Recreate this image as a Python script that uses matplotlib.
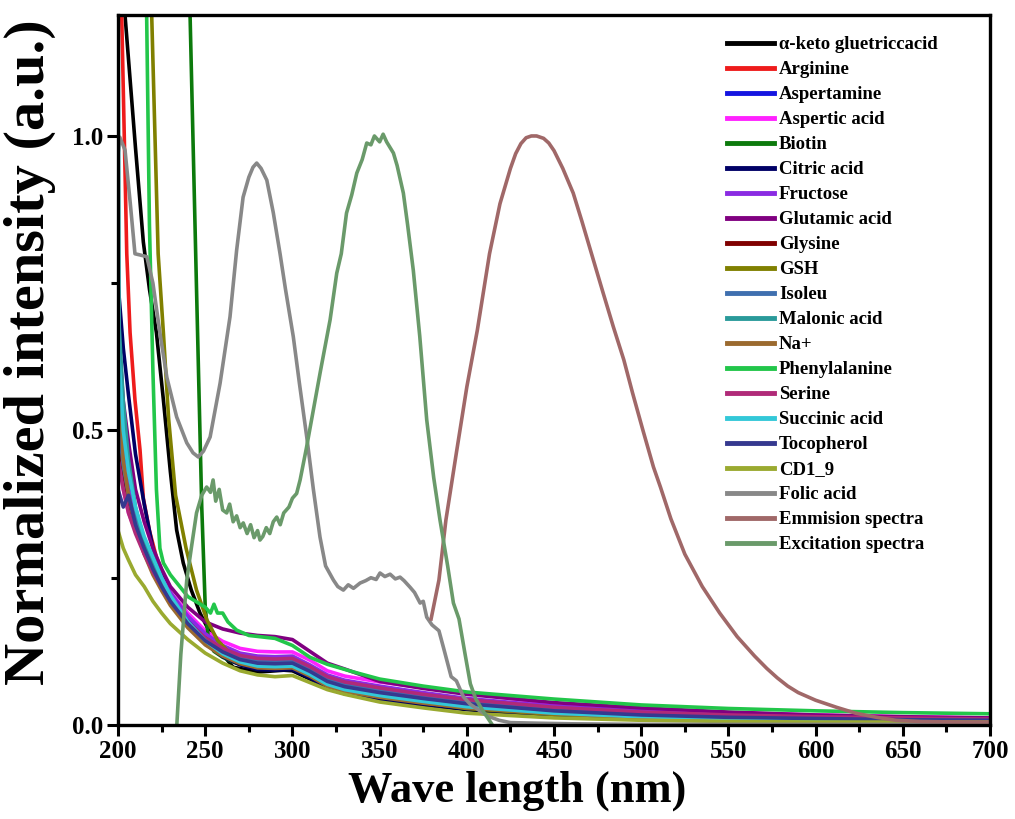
import matplotlib
matplotlib.use("Agg")
import matplotlib.pyplot as plt
from matplotlib.ticker import MultipleLocator, FormatStrFormatter

plt.rcParams['font.family'] = ['Liberation Serif', 'DejaVu Serif']
plt.rcParams['font.weight'] = 'bold'

# ---------------- data ----------------
W_B = [200, 203, 206, 210, 215, 220, 225, 230, 240, 250, 260, 270, 280, 290, 300,
       310, 320, 330, 350, 375, 400, 450, 500, 550, 600, 650, 700]

keto_x = [200, 204, 210, 214.5, 218, 222, 226, 230, 233.6, 237.4, 242, 247, 253, 260, 266,
          281, 295, 300, 310, 320, 330, 350, 375, 400, 450, 500, 550, 600, 650, 700]
keto_y = [1.35, 1.205, 0.98, 0.82, 0.74, 0.666, 0.552, 0.43, 0.331, 0.275, 0.229, 0.19, 0.155,
          0.12, 0.098, 0.09, 0.093, 0.092, 0.078, 0.062, 0.053, 0.043, 0.034, 0.026, 0.016,
          0.011, 0.008, 0.006, 0.005, 0.005]

arg_x = [200, 202.1, 205, 206.9, 209.7, 212.6, 214.5, 218, 222, 226, 230, 240, 250, 260, 270,
         280, 290, 300, 310, 320, 330, 350, 375, 400, 450, 500, 550, 600, 650, 700]
arg_y = [1.45, 1.205, 0.80, 0.666, 0.552, 0.467, 0.385, 0.33, 0.285, 0.255, 0.225, 0.18, 0.148,
         0.127, 0.113, 0.106, 0.105, 0.106, 0.092, 0.075, 0.066, 0.055, 0.045, 0.036, 0.024,
         0.017, 0.013, 0.011, 0.009, 0.008]

aspertamine_y = [0.60, 0.47, 0.41, 0.355, 0.31, 0.275, 0.245, 0.22, 0.18, 0.15, 0.13, 0.116, 0.110,
                 0.109, 0.110, 0.096, 0.079, 0.070, 0.060, 0.050, 0.040, 0.028, 0.020, 0.016,
                 0.013, 0.011, 0.009]
aspertic_y = [0.47, 0.40, 0.36, 0.33, 0.30, 0.275, 0.25, 0.225, 0.19, 0.16, 0.142, 0.13, 0.125,
              0.124, 0.124, 0.11, 0.092, 0.083, 0.073, 0.063, 0.054, 0.036, 0.027, 0.021, 0.017,
              0.014, 0.012]

biotin_x = [236, 241.3, 245, 248, 250, 252, 255, 260, 265, 270, 280, 290, 300, 310, 320, 330,
            350, 375, 400, 450, 500, 550, 600, 650, 700]
biotin_y = [1.87, 1.205, 0.74, 0.37, 0.20, 0.14, 0.125, 0.115, 0.108, 0.103, 0.100, 0.099, 0.100,
            0.087, 0.070, 0.061, 0.051, 0.041, 0.032, 0.021, 0.015, 0.012, 0.010, 0.008, 0.007]

citric_y = [0.75, 0.64, 0.56, 0.46, 0.375, 0.30, 0.255, 0.22, 0.17, 0.138, 0.116, 0.102, 0.094,
            0.093, 0.094, 0.080, 0.063, 0.054, 0.044, 0.035, 0.027, 0.017, 0.012, 0.009, 0.007,
            0.006, 0.005]
fructose_y = [0.55, 0.45, 0.40, 0.35, 0.31, 0.28, 0.25, 0.225, 0.185, 0.155, 0.135, 0.122, 0.117,
              0.116, 0.117, 0.102, 0.085, 0.076, 0.066, 0.055, 0.045, 0.032, 0.024, 0.019, 0.015,
              0.012, 0.011]
glutamic_y = [0.68, 0.55, 0.48, 0.40, 0.345, 0.30, 0.265, 0.235, 0.20, 0.175, 0.163, 0.156, 0.152,
              0.150, 0.145, 0.125, 0.105, 0.095, 0.074, 0.062, 0.052, 0.038, 0.029, 0.022, 0.017,
              0.014, 0.012]
glysine_y = [0.50, 0.43, 0.38, 0.335, 0.295, 0.262, 0.232, 0.207, 0.168, 0.139, 0.12, 0.107, 0.100,
             0.099, 0.100, 0.086, 0.069, 0.060, 0.050, 0.040, 0.032, 0.021, 0.015, 0.012, 0.010,
             0.008, 0.007]

gsh_x = [200, 219.3, 223, 226, 229, 233, 239, 245, 251, 257, 264, 275, 290, 300, 310, 320, 330,
         350, 375, 400, 450, 500, 550, 600, 650, 700]
gsh_y = [3.0, 1.205, 0.80, 0.666, 0.52, 0.39, 0.30, 0.229, 0.178, 0.144, 0.122, 0.11, 0.105, 0.105,
         0.09, 0.075, 0.065, 0.05, 0.038, 0.028, 0.018, 0.013, 0.010, 0.008, 0.007, 0.006]

isoleu_y = [0.52, 0.44, 0.39, 0.345, 0.305, 0.27, 0.24, 0.215, 0.176, 0.146, 0.127, 0.114, 0.108,
            0.107, 0.108, 0.094, 0.077, 0.068, 0.058, 0.048, 0.039, 0.027, 0.019, 0.015, 0.012,
            0.010, 0.009]

malonic_x = [200, 200.4, 203, 206, 210, 215, 220, 225, 230, 240, 250, 260, 270, 280, 290, 300,
             310, 320, 330, 350, 375, 400, 450, 500, 550, 600, 650, 700]
malonic_y = [0.72, 0.69, 0.55, 0.45, 0.37, 0.31, 0.275, 0.245, 0.215, 0.172, 0.142, 0.122, 0.109,
             0.102, 0.101, 0.102, 0.088, 0.071, 0.062, 0.052, 0.042, 0.033, 0.022, 0.015, 0.012,
             0.010, 0.008, 0.007]

na_x = [200, 200.6, 203, 206, 210, 215, 220, 225, 230, 240, 250, 260, 270, 280, 290, 300, 310,
        320, 330, 350, 375, 400, 450, 500, 550, 600, 650, 700]
na_y = [1.02, 0.60, 0.45, 0.39, 0.335, 0.29, 0.255, 0.228, 0.203, 0.165, 0.136, 0.117, 0.104,
        0.097, 0.096, 0.097, 0.083, 0.066, 0.057, 0.047, 0.037, 0.029, 0.019, 0.013, 0.010,
        0.008, 0.007, 0.006]

phenyl_x = [200, 215, 216.4, 218, 220, 222, 224, 226, 230, 240, 250, 253, 255, 257, 260, 263,
            268, 275, 290, 300, 310, 320, 335, 350, 375, 400, 450, 500, 550, 600, 650, 700]
phenyl_y = [3.5, 1.45, 1.205, 0.85, 0.60, 0.40, 0.30, 0.275, 0.255, 0.218, 0.20, 0.19, 0.205,
            0.19, 0.19, 0.175, 0.161, 0.152, 0.147, 0.135, 0.115, 0.103, 0.09, 0.078, 0.066,
            0.056, 0.044, 0.034, 0.028, 0.024, 0.021, 0.019]

serine_y = [0.45, 0.40, 0.36, 0.325, 0.29, 0.26, 0.235, 0.21, 0.175, 0.148, 0.13, 0.118, 0.113,
            0.112, 0.113, 0.099, 0.082, 0.073, 0.063, 0.052, 0.043, 0.030, 0.022, 0.017, 0.014,
            0.012, 0.010]

succinic_x = [200, 200.3, 200.6, 203, 206, 210, 215, 220, 225, 230, 240, 250, 260, 270, 280, 290,
              300, 310, 320, 330, 350, 375, 400, 450, 500, 550, 600, 650, 700]
succinic_y = [1.30, 1.00, 0.62, 0.50, 0.43, 0.37, 0.32, 0.285, 0.25, 0.22, 0.175, 0.143, 0.121,
              0.107, 0.100, 0.099, 0.100, 0.086, 0.069, 0.060, 0.050, 0.040, 0.031, 0.020, 0.014,
              0.011, 0.009, 0.008, 0.007]

tocopherol_y = [0.40, 0.37, 0.39, 0.34, 0.30, 0.265, 0.235, 0.21, 0.172, 0.143, 0.124, 0.111,
                0.105, 0.104, 0.105, 0.091, 0.074, 0.065, 0.055, 0.045, 0.036, 0.024, 0.017,
                0.013, 0.011, 0.009, 0.008]

cd_y = [0.33, 0.30, 0.28, 0.255, 0.235, 0.21, 0.19, 0.172, 0.145, 0.122, 0.105, 0.092, 0.085,
        0.082, 0.084, 0.072, 0.060, 0.052, 0.039, 0.029, 0.020, 0.012, 0.008, 0.006, 0.005,
        0.005, 0.005]

folic_x = [200, 201, 204, 207, 209.7, 212.6, 216.5, 220, 224, 228, 233.6, 239.4, 243, 246, 249,
           252.8, 258.5, 264.2, 268, 271.7, 275, 277.4, 279.5, 282, 285.3, 289, 292.9, 296,
           300.5, 304, 308.2, 312, 315.8, 319, 323.5, 326, 329.2, 332, 335, 338.8, 342, 345,
           348, 350.2, 353, 356, 359, 361.7, 364, 367.4, 370, 373.2, 375, 377, 380, 384, 387,
           391, 394, 398, 402, 407, 412, 418.5, 425, 441, 460, 500, 550, 600, 650, 700]
folic_y = [0.97, 0.998, 0.976, 0.886, 0.80, 0.798, 0.795, 0.75, 0.666, 0.59, 0.523, 0.479, 0.462,
           0.455, 0.465, 0.489, 0.58, 0.693, 0.806, 0.896, 0.93, 0.947, 0.954, 0.945, 0.925,
           0.87, 0.80, 0.74, 0.659, 0.58, 0.489, 0.40, 0.319, 0.27, 0.246, 0.235, 0.229, 0.238,
           0.232, 0.241, 0.245, 0.25, 0.247, 0.258, 0.252, 0.256, 0.248, 0.251, 0.245, 0.234,
           0.225, 0.207, 0.21, 0.183, 0.17, 0.16, 0.127, 0.082, 0.075, 0.048, 0.035, 0.025,
           0.015, 0.008, 0.004, 0.003, 0.002, 0.001, 0.001, 0.001, 0.001, 0.001]

emis_x = [379.5, 384, 388, 394, 400, 406, 413, 419, 425, 428, 431, 434, 437, 440, 444, 447, 450,
          455, 461, 466, 472, 478, 484, 490, 495, 501, 507, 511, 517, 525, 535, 545, 555, 565,
          572, 578, 584, 590, 600, 612, 623, 635, 646, 660, 680, 700]
emis_y = [0.18, 0.246, 0.348, 0.462, 0.574, 0.67, 0.80, 0.885, 0.945, 0.97, 0.987, 0.997, 1.0,
          1.0, 0.996, 0.988, 0.975, 0.945, 0.903, 0.855, 0.795, 0.735, 0.676, 0.62, 0.564,
          0.50, 0.438, 0.404, 0.35, 0.29, 0.235, 0.19, 0.15, 0.117, 0.096, 0.08, 0.066, 0.055,
          0.042, 0.03, 0.02, 0.013, 0.008, 0.006, 0.005, 0.005]

exc_x = [233.7, 236, 239.4, 242, 245, 248, 250.8, 253, 254.5, 256, 258, 260, 262.3, 264, 266,
         268, 270, 271.8, 274, 276, 278, 280, 281.4, 283, 285, 287, 289, 291, 293, 295, 298,
         300, 302.4, 304.4, 308, 312, 316, 321.6, 325.4, 328, 331, 334, 336.9, 340, 342.6, 345,
         347, 350, 352, 354, 357.9, 360, 363.6, 366, 369.3, 373, 377, 381, 384.6, 389, 392.3,
         395.5, 399, 402, 405, 409, 414]
exc_y = [0.0, 0.12, 0.246, 0.30, 0.36, 0.39, 0.404, 0.395, 0.416, 0.38, 0.40, 0.365, 0.36, 0.375,
         0.345, 0.355, 0.335, 0.343, 0.325, 0.34, 0.318, 0.33, 0.314, 0.32, 0.335, 0.325, 0.345,
         0.353, 0.34, 0.36, 0.37, 0.385, 0.393, 0.416, 0.47, 0.535, 0.6, 0.688, 0.767, 0.8,
         0.869, 0.9, 0.937, 0.96, 0.988, 0.985, 1.0, 0.99, 1.003, 0.99, 0.971, 0.95, 0.903,
         0.85, 0.772, 0.66, 0.518, 0.42, 0.348, 0.27, 0.207, 0.18, 0.12, 0.07, 0.045, 0.025,
         0.003]

series = [
    ("α-keto gluetriccacid", keto_x, keto_y, "#000000"),
    ("Arginine", arg_x, arg_y, "#EE1C1C"),
    ("Aspertamine", W_B, aspertamine_y, "#1414E0"),
    ("Aspertic acid", W_B, aspertic_y, "#FF22FF"),
    ("Biotin", biotin_x, biotin_y, "#0C7A0C"),
    ("Citric acid", W_B, citric_y, "#000066"),
    ("Fructose", W_B, fructose_y, "#8A2BE2"),
    ("Glutamic acid", W_B, glutamic_y, "#800080"),
    ("Glysine", W_B, glysine_y, "#800000"),
    ("GSH", gsh_x, gsh_y, "#808000"),
    ("Isoleu", W_B, isoleu_y, "#3F6FAF"),
    ("Malonic acid", malonic_x, malonic_y, "#2A9A9A"),
    ("Na+", na_x, na_y, "#9B6A2F"),
    ("Phenylalanine", phenyl_x, phenyl_y, "#22C64A"),
    ("Serine", W_B, serine_y, "#B02A78"),
    ("Succinic acid", succinic_x, succinic_y, "#33C8D8"),
    ("Tocopherol", W_B, tocopherol_y, "#35398F"),
    ("CD1_9", W_B, cd_y, "#9AAA30"),
    ("Folic acid", folic_x, folic_y, "#888888"),
    ("Emmision spectra", emis_x, emis_y, "#A06868"),
    ("Excitation spectra", exc_x, exc_y, "#6A9A6A"),
]

# ---------------- plot ----------------
fig = plt.figure(figsize=(10.15, 8.19), dpi=100)
ax = fig.add_axes([0.1163, 0.1148, 0.8591, 0.8669])

for name, xs, ys, col in series:
    ax.plot(xs, ys, color=col, lw=2.6, label=name, solid_joinstyle='round')

ax.set_xlim(200, 700)
ax.set_ylim(0, 1.2054)
ax.xaxis.set_major_locator(MultipleLocator(50))
ax.xaxis.set_minor_locator(MultipleLocator(25))
ax.yaxis.set_major_locator(MultipleLocator(0.5))
ax.yaxis.set_minor_locator(MultipleLocator(0.25))
ax.yaxis.set_major_formatter(FormatStrFormatter('%.1f'))

for s in ax.spines.values():
    s.set_linewidth(2.4)
ax.tick_params(which='major', direction='out', length=8, width=2.2, labelsize=18, pad=3)
ax.tick_params(which='minor', direction='out', length=5, width=2.2)
for lab in ax.get_xticklabels() + ax.get_yticklabels():
    lab.set_fontweight('bold')

ax.set_xlabel("Wave length (nm)", fontsize=32, fontweight='bold')
ax.set_ylabel("Normalized intensity (a.u.)", fontsize=42, fontweight='bold')
ax.xaxis.set_label_coords(0.4576, -0.092, transform=ax.transAxes)
ax.xaxis.label.set_va('center')
ax.yaxis.set_label_coords(-0.101, 0.525, transform=ax.transAxes)
ax.yaxis.label.set_va('center')

leg = ax.legend(loc='upper left', bbox_to_anchor=(0.698, 0.97), frameon=False,
                prop={'family': 'Liberation Serif', 'weight': 'bold', 'size': 13.5},
                handlelength=2.5, handletextpad=0.3, labelspacing=0.42, borderpad=0,
                borderaxespad=0)
for h in leg.get_lines():
    h.set_linewidth(3.5)

fig.savefig("out.png", dpi=100)
